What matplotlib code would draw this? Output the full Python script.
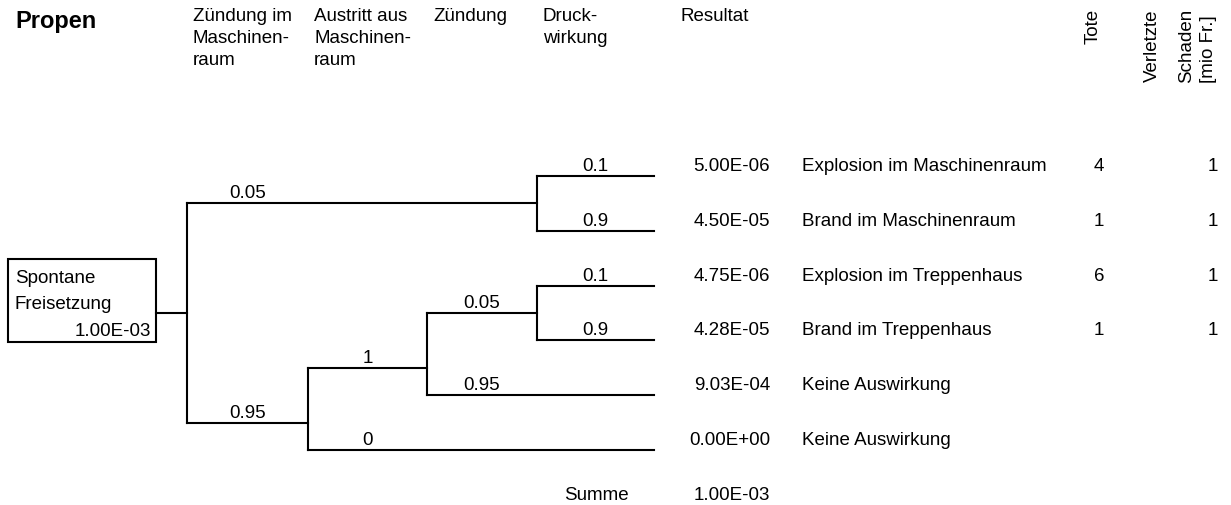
import matplotlib
matplotlib.use("Agg")
import matplotlib.pyplot as plt
from matplotlib.patches import Rectangle

plt.rcParams['font.family'] = ['Liberation Sans', 'DejaVu Sans']

title = "Propen"
column_headers = ["Zündung im\nMaschinen-\nraum", "Austritt aus\nMaschinen-\nraum",
                  "Zündung", "Druck-\nwirkung"]
result_header = "Resultat"
side_headers = ["Tote", "Verletzte", "Schaden\n[mio Fr.]"]

initiating_event = "Spontane\nFreisetzung"
initiating_freq = 1.00e-3

# branch probabilities per column for each end state (None = column not asked)
event_paths = [
    ["0.05", None, None, "0.1"],
    ["0.05", None, None, "0.9"],
    ["0.95", "1", "0.05", "0.1"],
    ["0.95", "1", "0.05", "0.9"],
    ["0.95", "1", "0.95", None],
    ["0.95", "0", None, None],
]
results = [5.00e-6, 4.50e-5, 4.75e-6, 4.28e-5, 9.03e-4, 0.0]
outcomes = ["Explosion im Maschinenraum", "Brand im Maschinenraum",
            "Explosion im Treppenhaus", "Brand im Treppenhaus",
            "Keine Auswirkung", "Keine Auswirkung"]
tote = [4, 1, 6, 1, None, None]
verletzte = [None, None, None, None, None, None]
schaden = [1, 1, 1, 1, None, None]
summe = 1.00e-3

# Layout (pixel units)
W, H = 1231, 506
col_x = [187, 308, 427, 537]
x_end = 654
row_y0, row_dy = 177, 54.8
# where a sub-tree joins its parent, in row units
joint_rows = {(0, 1, 2, 3, 4, 5): 2.5, (0, 1): 0.5, (2, 3): 2.5,
              (2, 3, 4): 3.5, (2, 3, 4, 5): 4.5}
FS = 13.5
LW = 1.5
n_cols = len(col_x)


def row_y(i):
    return row_y0 + i * row_dy


def joint_y(rows):
    if len(rows) == 1:
        return row_y(rows[0])
    return row_y(joint_rows[tuple(rows)])


def col_center(c):
    right = col_x[c + 1] if c + 1 < n_cols else x_end
    return (col_x[c] + right) / 2


fig = plt.figure(figsize=(W / 100, H / 100), dpi=100)
ax = fig.add_axes([0, 0, 1, 1])
ax.set_xlim(0, W)
ax.set_ylim(H, 0)
ax.axis('off')


def line(xs, ys):
    ax.plot(xs, ys, color='black', lw=LW, solid_capstyle='projecting')


def branch(rows, c, y):
    nxt = next((k for k in range(c + 1, n_cols)
                if len(set(event_paths[r][k] for r in rows)) > 1), None)
    x1 = col_x[nxt] if nxt is not None else x_end
    line([col_x[c], x1], [y, y])
    ax.text(col_center(c), y - 6, event_paths[rows[0]][c], fontsize=FS,
            ha='center', va='baseline')
    if nxt is not None:
        split(rows, nxt)


def split(rows, k):
    groups = {}
    for r in rows:
        groups.setdefault(event_paths[r][k], []).append(r)
    groups = list(groups.values())
    ys = [joint_y(g) for g in groups]
    line([col_x[k], col_x[k]], [min(ys), max(ys)])
    for g, y in zip(groups, ys):
        branch(g, k, y)


# initiating event box
all_rows = list(range(len(event_paths)))
ax.add_patch(Rectangle((8, 260), 148, 83, fill=False, ec='black', lw=LW))
for j, txt in enumerate(initiating_event.split("\n")):
    ax.text(15, 283 + 26 * j, txt, fontsize=FS, ha='left', va='baseline')
ax.text(151, 336, f"{initiating_freq:.2E}", fontsize=FS, ha='right', va='baseline')
line([156, col_x[0]], [joint_y(all_rows)] * 2)
split(all_rows, 0)

# headers
ax.text(15, 28, title, fontsize=17, fontweight='bold', ha='left', va='baseline')
for c, hdr in enumerate(column_headers):
    ax.text(col_x[c] + 6, 8, hdr, fontsize=FS, ha='left', va='top', linespacing=1.38)
ax.text(681, 8, result_header, fontsize=FS, ha='left', va='top')
for x, hdr in zip([1093, 1152, 1198], side_headers):
    ax.text(x, 9, hdr, fontsize=FS, rotation=90, ha='center', va='top',
            multialignment='left', linespacing=1.38)

# end states
for i in all_rows:
    yb = row_y(i) - 6
    ax.text(770, yb, f"{results[i]:.2E}", fontsize=FS, ha='right', va='baseline')
    ax.text(802, yb, outcomes[i], fontsize=FS, ha='left', va='baseline')
    if tote[i] is not None:
        ax.text(1099, yb, str(tote[i]), fontsize=FS, ha='center', va='baseline')
    if verletzte[i] is not None:
        ax.text(1152, yb, str(verletzte[i]), fontsize=FS, ha='center', va='baseline')
    if schaden[i] is not None:
        ax.text(1213, yb, str(schaden[i]), fontsize=FS, ha='center', va='baseline')

ys = row_y(len(all_rows)) - 6
ax.text(629, ys, "Summe", fontsize=FS, ha='right', va='baseline')
ax.text(770, ys, f"{summe:.2E}", fontsize=FS, ha='right', va='baseline')

fig.savefig("out.png", dpi=100)
